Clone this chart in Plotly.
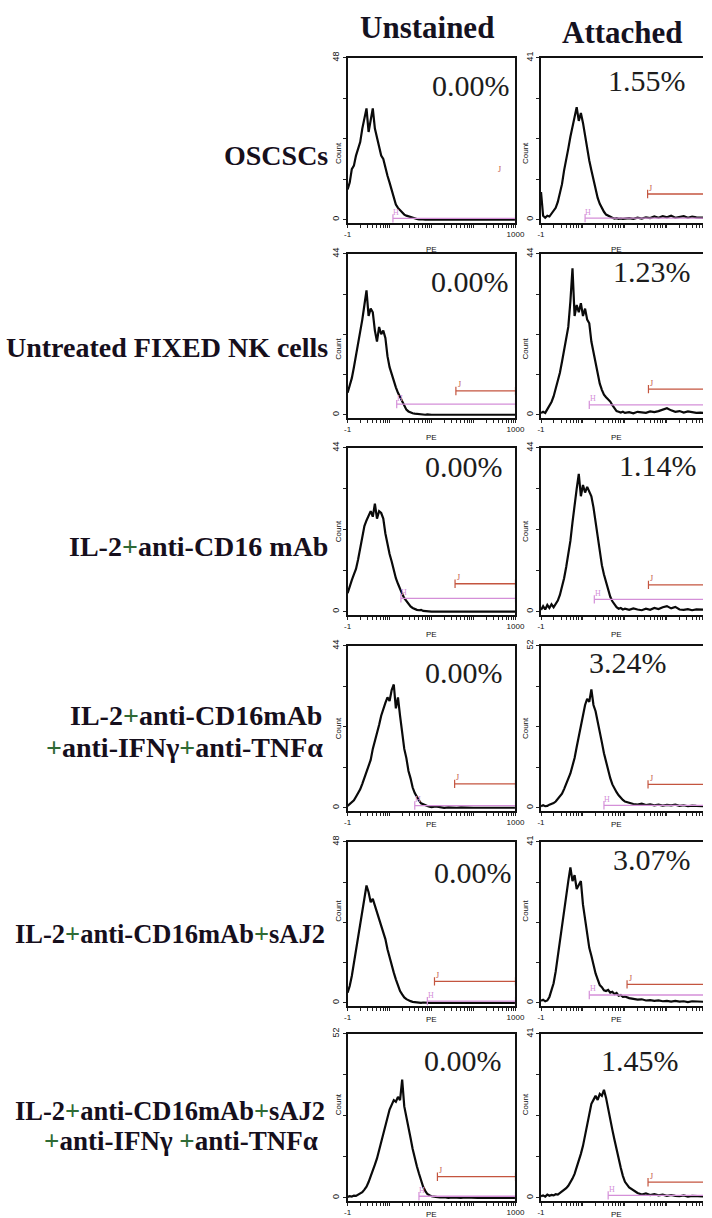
import plotly.graph_objects as go

W, H = 712, 1218

# ---------------- data ----------------
LOG_PE = [-1.00, -0.95, -0.90, -0.85, -0.80, -0.75, -0.70, -0.65, -0.60, -0.55,
          -0.50, -0.45, -0.40, -0.35, -0.30, -0.25, -0.20, -0.15, -0.10, -0.05,
          0.00, 0.05, 0.10, 0.15, 0.20, 0.25, 0.30, 0.35, 0.40, 0.45,
          0.50, 0.55, 0.60, 0.65, 0.70, 0.75, 0.80, 0.85, 0.90, 0.95,
          1.00,
          1.10, 1.20, 1.30, 1.40, 1.50, 1.60, 1.70, 1.80, 1.90, 2.00,
          2.10, 2.20, 2.30, 2.40, 2.50, 2.60, 2.70, 2.80, 2.90, 3.00]

COLUMN_TITLES = ["Unstained", "Attached"]
ROW_LABELS = [
    ["OSCSCs"],
    ["Untreated FIXED NK cells"],
    ["IL-2+anti-CD16 mAb"],
    ["IL-2+anti-CD16mAb", "+anti-IFNγ+anti-TNFα"],
    ["IL-2+anti-CD16mAb+sAJ2"],
    ["IL-2+anti-CD16mAb+sAJ2", "+anti-IFNγ +anti-TNFα"],
]
PERCENT_UNSTAINED = ["0.00%", "0.00%", "0.00%", "0.00%", "0.00%", "0.00%"]
PERCENT_ATTACHED = ["1.55%", "1.23%", "1.14%", "3.24%", "3.07%", "1.45%"]
YMAX_UNSTAINED = [48, 44, 44, 44, 48, 52]
YMAX_ATTACHED = [41, 44, 44, 52, 41, 41]
X_TICK_LABELS = ["-1", "1000"]

COUNT_UNSTAINED_OSCSC = [
    9, 11, 15, 16, 19, 21, 23, 27, 30, 33,
    26, 29, 33, 27, 24, 22, 19, 18, 15, 13,
    11, 9, 6.5, 4.5, 3.5, 2.8, 2.0, 1.5, 1.2, 1.0,
    0.6, 0.4, 0.3, 0.2, 0.1, 0.2, 0.1, 0, 0.1, 0,
    0,
    0.1, 0, 0, 0.1, 0, 0, 0, 0.1, 0, 0,
    0, 0.1, 0, 0, 0, 0, 0.1, 0, 0, 0]
COUNT_ATTACHED_OSCSC = [
    7, 1, 0.5, 1, 0.8, 1.5, 2, 3, 4.5, 6.5,
    9, 12.5, 15, 18, 21, 23.5, 26, 28.5, 25, 27,
    24.5, 21, 18, 15, 12.5, 10, 7.5, 5.5, 4, 2.8,
    2, 1.3, 1, 0.6, 0.5, 0.3, 0.4, 0.2, 0.3, 0.2,
    0.3,
    0.4, 0.2, 0.5, 0.3, 0.6, 0.4, 0.8, 0.5, 0.9, 0.6,
    1.0, 0.5, 0.7, 0.9, 0.5, 0.8, 0.6, 0.5, 0.4, 0.5]
COUNT_UNSTAINED_UNTREATED = [
    6, 8, 10, 13, 16, 19, 23, 26, 30, 34,
    27, 29, 28, 23, 20, 24, 22, 23, 21, 16,
    13, 11, 9, 7.5, 6, 4.8, 3.5, 2.3, 1.4, 0.9,
    0.6, 0.4, 0.3, 0.2, 0.1, 0.2, 0.1, 0, 0.1, 0,
    0,
    0, 0, 0, 0, 0, 0, 0, 0, 0, 0,
    0, 0, 0, 0, 0, 0, 0, 0, 0, 0]
COUNT_ATTACHED_UNTREATED = [
    0.5, 0.8, 0.5, 1.5, 2.5, 3.5, 5, 7, 9, 11.5,
    14.5, 17.5, 20.5, 24, 31, 40, 27, 30, 28, 30.5,
    27, 29, 26, 25, 20, 17, 14, 10.5, 8.5, 6.8,
    5.5, 4.8, 4.2, 3.6, 2.6, 1.8, 1.0, 0.8, 0.6, 0.8,
    0.5,
    0.7, 0.4, 0.8, 0.6, 0.5, 0.9, 0.7, 1.0, 1.3, 1.8,
    1.2, 0.8, 1.0, 0.6, 0.9, 0.7, 0.5, 0.6, 0.4, 0.5]
COUNT_UNSTAINED_IL2CD16 = [
    5, 7, 8.5, 10, 11.5, 14, 17, 20, 23, 24.5,
    26, 27, 25.5, 29, 25, 27, 26.5, 25, 21, 18,
    15.5, 13.5, 11, 9, 7.5, 5.9, 4.8, 3.6, 2.8, 2,
    1.4, 1, 0.7, 0.5, 0.4, 0.5, 0.2, 0.1, 0.1, 0,
    0,
    0, 0.1, 0, 0, 0, 0, 0, 0, 0, 0,
    0, 0, 0, 0, 0, 0, 0, 0, 0, 0]
COUNT_ATTACHED_IL2CD16 = [
    0.5, 1.5, 0.6, 1.8, 1.0, 2.0, 1.2, 2.2, 3.0, 4.5,
    6.5, 9, 12, 15, 19, 24, 29, 33, 37, 31,
    34, 32, 33.5, 32, 31, 28, 24, 20, 16, 12.5,
    10, 8, 5.5, 4, 2.8, 1.8, 1.2, 0.8, 1.0, 0.6,
    0.8,
    0.5, 0.9, 0.6, 0.4, 0.8, 0.5, 1.0, 0.7, 1.2, 1.5,
    0.9, 1.3, 0.6, 0.5, 0.7, 0.4, 0.6, 0.5, 0.4, 0.5]
COUNT_UNSTAINED_IL2CD16_ANTI = [
    0.5, 1, 1.5, 2, 3, 4, 5, 6.5, 8, 9.5,
    11, 13, 16, 18, 20.5, 22.5, 25, 27, 28.5, 30,
    29, 32, 33.5, 27, 30, 25, 20, 16, 13.5, 10,
    8, 5.5, 4, 2.8, 2, 1.2, 0.9, 0.6, 0.5, 0.3,
    0.2,
    0.4, 0.1, 0, 0.1, 0, 0, 0.1, 0, 0, 0,
    0, 0, 0, 0, 0, 0, 0, 0, 0, 0]
COUNT_ATTACHED_IL2CD16_ANTI = [
    0.5, 0.8, 0.5, 0.6, 1.0, 1.2, 1.5, 2, 2.8, 3.5,
    4.5, 6, 7.5, 9, 11, 13.5, 16, 19.5, 23, 26,
    29, 33, 35, 34, 38, 33, 31, 28, 24, 21,
    17.5, 14.5, 12, 9.5, 7.5, 6, 5, 4, 3.2, 2.5,
    2,
    1.5, 1.2, 1.0, 1.3, 0.9, 1.1, 0.8, 1.0, 0.7, 0.9,
    0.8, 1.0, 0.6, 0.8, 0.5, 0.7, 0.6, 0.5, 0.4, 0.5]
COUNT_UNSTAINED_SAJ2 = [
    3, 5, 8, 12, 16, 20, 24, 28, 31, 35,
    33, 30, 31, 29, 27, 25, 23, 21, 19, 16,
    13.5, 11, 9, 7, 5, 3.5, 2.5, 1.6, 1.1, 0.7,
    0.5, 0.3, 0.2, 0.1, 0.1, 0, 0.1, 0, 0, 0,
    0,
    0, 0, 0, 0, 0, 0, 0, 0, 0, 0,
    0, 0, 0, 0, 0, 0, 0, 0, 0, 0]
COUNT_ATTACHED_SAJ2 = [
    0.5, 0.8, 0.4, 0.6, 1.5, 3, 5, 8, 12, 16,
    20, 24, 27, 31, 34.5, 31, 32.5, 29, 30, 31,
    25, 21, 17, 14, 12, 9.5, 7.5, 6, 4.5, 4,
    3.2, 3, 3.3, 2.6, 2.8, 2.2, 2.5, 1.8, 2.0, 1.5,
    1.6,
    1.2, 1.0, 0.8, 0.9, 0.6, 0.7, 0.5, 0.6, 0.4, 0.5,
    0.3, 0.5, 0.3, 0.4, 0.2, 0.4, 0.3, 0.2, 0.3, 0.2]
COUNT_UNSTAINED_SAJ2_ANTI = [
    0.3, 0.5, 0.4, 0.7, 0.6, 1, 1.4, 1.8, 2.6, 3.5,
    5, 6.7, 8.5, 10.5, 12.5, 15, 17.5, 20, 23, 25.5,
    28, 29.5, 31, 30.5, 32, 31, 37.5, 29, 26, 22,
    19, 15.5, 12.5, 10, 7.7, 5.5, 3.5, 2.2, 1.2, 0.8,
    0.5,
    0.3, 0.1, 0.2, 0, 0.1, 0, 0, 0.1, 0, 0,
    0, 0, 0, 0, 0, 0, 0, 0, 0, 0]
COUNT_ATTACHED_SAJ2_ANTI = [
    0.4, 0.6, 0.3, 0.8, 0.5, 0.7, 0.6, 0.9, 0.8, 1.2,
    1.5, 1.9, 2.4, 3.0, 3.8, 4.8, 6, 7.5, 9, 11,
    13, 15.5, 18, 21, 23.5, 24.5, 25.5, 24.5, 26, 25.5,
    27, 25, 22, 19.5, 17, 14.5, 12, 9.5, 7.5, 5.5,
    4,
    2.6, 1.8, 1.2, 0.8, 1.1, 0.7, 0.9, 0.6, 0.8, 0.5,
    0.7, 0.5, 0.4, 0.6, 0.3, 0.5, 0.4, 0.3, 0.4, 0.3]

# marker gates (log10 PE start, count level)
GATE_J_START_UNSTAINED = [2.55, 1.58, 1.56, 1.55, 1.07, 1.14]
GATE_J_LEVEL_UNSTAINED = [13, 6.5, 7.5, 6.5, 6.4, 6.7]
GATE_J_LINE_UNSTAINED = [False, True, True, True, True, True]
GATE_H_START_UNSTAINED = [0.08, 0.17, 0.27, 0.6, 0.9, 0.7]
GATE_H_LEVEL_UNSTAINED = [0.4, 2.9, 3.6, 0.6, 0.5, 0.5]
GATE_J_START_ATTACHED = [1.54, 1.56, 1.56, 1.55, 1.05, 1.55]
GATE_J_LEVEL_ATTACHED = [6.5, 7, 7.2, 7.5, 4.7, 3.9]
GATE_J_LINE_ATTACHED = [True, True, True, True, True, True]
GATE_H_START_ATTACHED = [0.05, 0.15, 0.27, 0.5, 0.15, 0.6]
GATE_H_LEVEL_ATTACHED = [0.4, 2.7, 3.3, 0.8, 2, 0.6]

UNSTAINED = [COUNT_UNSTAINED_OSCSC, COUNT_UNSTAINED_UNTREATED, COUNT_UNSTAINED_IL2CD16,
             COUNT_UNSTAINED_IL2CD16_ANTI, COUNT_UNSTAINED_SAJ2, COUNT_UNSTAINED_SAJ2_ANTI]
ATTACHED = [COUNT_ATTACHED_OSCSC, COUNT_ATTACHED_UNTREATED, COUNT_ATTACHED_IL2CD16,
            COUNT_ATTACHED_IL2CD16_ANTI, COUNT_ATTACHED_SAJ2, COUNT_ATTACHED_SAJ2_ANTI]
for arr in UNSTAINED + ATTACHED:
    assert len(arr) == len(LOG_PE), len(arr)

# ---------------- layout (pixels) ----------------
COL_PX = [(350, 521), (547, 712)]
ROW_PX = [(52, 218), (249, 414), (444, 612), (643, 809), (840, 1005), (1033, 1201)]
TITLE_POS = [(431, 22), (630, 27)]
# (right edge x, centre y, font size) per label line
LABEL_POS = [[(332, 150, 28)], [(332, 343, 28)], [(332, 543, 28)],
             [(326, 713, 28), (327, 745, 28)], [(329, 933, 26.5)],
             [(329, 1110, 26.5), (322, 1141, 27)]]
PCT_POS = [[(476, 80), (475, 277), (469, 463), (469, 670), (478, 871), (468, 1060)],
           [(655, 75), (660, 267), (666, 462), (636, 660), (660, 858), (648, 1060)]]

SERIF = "Liberation Serif, Times New Roman, serif"
SMALL = "Liberation Sans, Arial, sans-serif"
J_COLOR = "#c4553f"
H_COLOR = "#d48fd8"
PLUS_GREEN = "#2f6b35"
TEXT_DARK = "#160f1c"


def px_x(px):
    return px / W


def px_y(py):
    return 1 - py / H


def green_plus(s):
    return s.replace("+", f'<span style="color:{PLUS_GREEN}">+</span>')


fig = go.Figure()
annotations = []
layout_axes = {}

minor_vals = []
for dec in [-1, 0, 1, 2]:
    for m in range(1, 10):
        minor_vals.append(m * 10 ** dec)
minor_vals.append(1000)
minor_text = ["" for _ in minor_vals]
minor_text[0] = X_TICK_LABELS[0]
minor_text[-1] = X_TICK_LABELS[1]

n = 0
for r in range(6):
    for c in range(2):
        n += 1
        xname = "x" if n == 1 else f"x{n}"
        yname = "y" if n == 1 else f"y{n}"
        xkey = "xaxis" if n == 1 else f"xaxis{n}"
        ykey = "yaxis" if n == 1 else f"yaxis{n}"
        x0, x1 = COL_PX[c]
        top, bot = ROW_PX[r]
        ppd = (COL_PX[0][1] - COL_PX[0][0]) / 4.0
        xr_end = -1 + (x1 - x0) / ppd
        ymax = (YMAX_UNSTAINED if c == 0 else YMAX_ATTACHED)[r]
        counts = (UNSTAINED if c == 0 else ATTACHED)[r]

        layout_axes[xkey] = dict(
            type="log", range=[-1, xr_end], domain=[px_x(x0), px_x(x1)], anchor=yname,
            showline=True, linecolor="#111", linewidth=1.6, mirror=True,
            showgrid=False, zeroline=False,
            tickmode="array", tickvals=minor_vals, ticktext=minor_text,
            ticks="outside", ticklen=3, tickwidth=1, tickcolor="#222",
            tickfont=dict(family=SMALL, size=8, color="#111"),
        )
        layout_axes[ykey] = dict(
            range=[-0.02 * ymax, ymax], domain=[px_y(bot), px_y(top)], anchor=xname,
            showline=True, linecolor="#111", linewidth=1.6, mirror=(c == 0),
            showgrid=False, zeroline=False,
            tickmode="array", tickvals=[0, ymax / 4, ymax / 2, 3 * ymax / 4, ymax],
            ticktext=["0", "", "", "", str(ymax)], tickangle=-90,
            ticks="outside", ticklen=3, tickwidth=1, tickcolor="#222",
            tickfont=dict(family=SMALL, size=9, color="#111"),
        )

        fig.add_trace(go.Scatter(
            x=[10 ** v for v in LOG_PE], y=counts, mode="lines",
            line=dict(color="#0a0a0a", width=2.2), xaxis=xname, yaxis=yname,
            hoverinfo="skip"))

        # gates
        if c == 0:
            js, jl, jline = GATE_J_START_UNSTAINED[r], GATE_J_LEVEL_UNSTAINED[r], GATE_J_LINE_UNSTAINED[r]
            hs, hl = GATE_H_START_UNSTAINED[r], GATE_H_LEVEL_UNSTAINED[r]
        else:
            js, jl, jline = GATE_J_START_ATTACHED[r], GATE_J_LEVEL_ATTACHED[r], GATE_J_LINE_ATTACHED[r]
            hs, hl = GATE_H_START_ATTACHED[r], GATE_H_LEVEL_ATTACHED[r]
        fig.add_trace(go.Scatter(
            x=[10 ** hs, 1000], y=[hl, hl], mode="lines+markers",
            line=dict(color=H_COLOR, width=1.3),
            marker=dict(symbol="line-ns", size=6, line=dict(color=H_COLOR, width=1.2)),
            xaxis=xname, yaxis=yname, hoverinfo="skip"))
        if jline:
            fig.add_trace(go.Scatter(
                x=[10 ** js, 1000], y=[jl, jl], mode="lines+markers",
                line=dict(color=J_COLOR, width=1.3),
                marker=dict(symbol="line-ns", size=6, line=dict(color=J_COLOR, width=1.2)),
                xaxis=xname, yaxis=yname, hoverinfo="skip"))
        annotations.append(dict(
            x=js + 0.08, y=jl, xref=xname, yref=yname, text="J", showarrow=False,
            yshift=6, font=dict(family=SERIF, size=8, color=J_COLOR)))
        annotations.append(dict(
            x=hs + 0.08, y=hl, xref=xname, yref=yname, text="H", showarrow=False,
            yshift=6, font=dict(family=SERIF, size=8, color=H_COLOR)))

        # percent
        pct = (PERCENT_UNSTAINED if c == 0 else PERCENT_ATTACHED)[r]
        px_, py_ = PCT_POS[c][r]
        annotations.append(dict(
            x=px_x(px_), y=px_y(py_), xref="paper", yref="paper", text=pct,
            showarrow=False, xanchor="center", yanchor="middle",
            font=dict(family=SERIF, size=30, color="#1c1c1c")))

        # axis titles
        annotations.append(dict(
            x=px_x(x0 - 9), y=px_y((top + bot) / 2), xref="paper", yref="paper",
            text="Count", textangle=-90, showarrow=False,
            font=dict(family=SMALL, size=8, color="#111")))
        annotations.append(dict(
            x=px_x(x0 + 85), y=px_y(bot + 20), xref="paper", yref="paper",
            text="PE", showarrow=False,
            font=dict(family=SMALL, size=8, color="#111")))

# column titles
for t, (tx, ty) in zip(COLUMN_TITLES, TITLE_POS):
    annotations.append(dict(
        x=px_x(tx), y=px_y(ty), xref="paper", yref="paper", text=f"<b>{t}</b>",
        showarrow=False, xanchor="center", yanchor="middle",
        font=dict(family=SERIF, size=31, color="#15121f")))

# row labels
for lines, poss in zip(ROW_LABELS, LABEL_POS):
    for line, (lx, ly, fs) in zip(lines, poss):
        annotations.append(dict(
            x=px_x(lx), y=px_y(ly), xref="paper", yref="paper",
            text=f"<b>{green_plus(line)}</b>", showarrow=False,
            xanchor="right", yanchor="middle",
            font=dict(family=SERIF, size=fs, color=TEXT_DARK)))

fig.update_layout(
    width=W, height=H, margin=dict(l=0, r=0, t=0, b=0),
    paper_bgcolor="white", plot_bgcolor="white", showlegend=False,
    annotations=annotations, **layout_axes)

fig.write_html("out.html")
